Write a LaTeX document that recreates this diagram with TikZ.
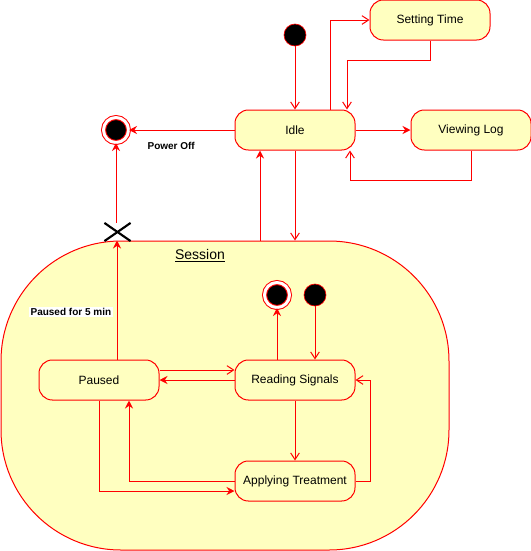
\documentclass[tikz,border=0pt]{standalone}
\usepackage{fontspec}
\setmainfont{Liberation Sans}
\usetikzlibrary{arrows.meta,positioning,shapes.misc}
\definecolor{statefill}{HTML}{FFFFC0}

\begin{document}
\begin{tikzpicture}[x=0.75pt,y=-0.75pt,
  font=\fontsize{9}{11}\selectfont,
  state/.style={draw=red,fill=statefill,rounded corners=10pt,minimum width=90pt,minimum height=30pt,inner sep=2pt,line width=0.75pt},
  startdot/.style={circle,fill=black,draw=red,line width=0.5pt,minimum size=16.5pt,inner sep=0pt},
  enddot/.style={circle,fill=black,draw=red,double=white,double distance=2.25pt,line width=0.75pt,minimum size=18.75pt,inner sep=0pt},
  exitx/.style={cross out,draw=black,line width=1.6pt,minimum width=18pt,minimum height=12pt,inner sep=0pt},
  lbl/.style={font=\fontsize{7.5}{9}\selectfont\bfseries,inner sep=1pt},
  arr/.style={-{Stealth[length=6pt,width=6pt,inset=2pt]},draw=red,line width=0.75pt},
  oarr/.style={-{Straight Barb[length=5pt,width=6.5pt]},draw=red,line width=0.75pt}]
\useasboundingbox (0,0) rectangle (531,551);
% composite state
\node[draw=red,fill=statefill,rounded corners=90pt,minimum width=336pt,minimum height=231.75pt,line width=0.75pt] (session) at (225,395.5) {};
\node[font=\fontsize{10.5}{12}\selectfont] (sesstitle) at (200,256) {\underline{Session}};
% top level
\node[state] (idle) at (295,130) {Idle};
\node[state,right=41.25pt of idle] (log) {Viewing Log};
\node[state] (settime) at (430,20) {Setting Time};
\node[startdot] (start) at (295,35) {};
\node[enddot] (stop) at (116,130) {};
\node[exitx] (exit) at (117.5,232) {};
% inside session
\node[state] (read) at (295,380) {Reading Signals};
\node[state,below=45pt of read] (treat) {Applying Treatment};
\node[state,left=56.25pt of read] (paused) {Paused};
\node[startdot] (sstart) at (315,295) {};
\node[enddot] (sstop) at (277,295) {};
\coordinate (idleL) at ([xshift=-26.25pt]idle.south);
\coordinate (pausedR) at ([xshift=13.5pt]paused.north);
% transitions
\draw[oarr] (start)--(idle);
\draw[oarr] ([xshift=26.25pt]idle.north) |- (settime.west);
\draw[oarr] (settime.south) -- ++(0,20) -| ([xshift=39pt]idle.north);
\draw[arr] (idle)--(log);
\draw[oarr] (log.south) -- ++(0,30) -| ([xshift=41.25pt]idle.south);
\draw[arr] (idle.west) -- node[lbl,pos=0.6,below=8pt]{Power Off} (stop);
\draw[oarr] (idle.south) -- (idle.south |- session.north);
\draw[arr] (idleL |- session.north) -- (idleL);
\draw[arr] (exit.north -| stop) -- (stop);
\draw[arr] (pausedR) -- node[lbl,fill=white,pos=0.4,left=3pt]{Paused for 5 min} (pausedR |- session.north);
\draw[arr] (read.north -| sstop) -- (sstop);
\draw[oarr] (sstart) -- (read.north -| sstart);
\draw[oarr] ([yshift=7.5pt]paused.east) -- ([yshift=7.5pt]read.west);
\draw[arr] (read.west) -- (paused.east);
\draw[oarr] (read) -- (treat);
\draw[oarr] (treat.east) -- ++(15,0) |- (read.east);
\draw[arr] (treat.west) -| ([xshift=22.5pt]paused.south);
\draw[arr] (paused.south) |- ([yshift=-7.5pt]treat.west);
\end{tikzpicture}
\end{document}
